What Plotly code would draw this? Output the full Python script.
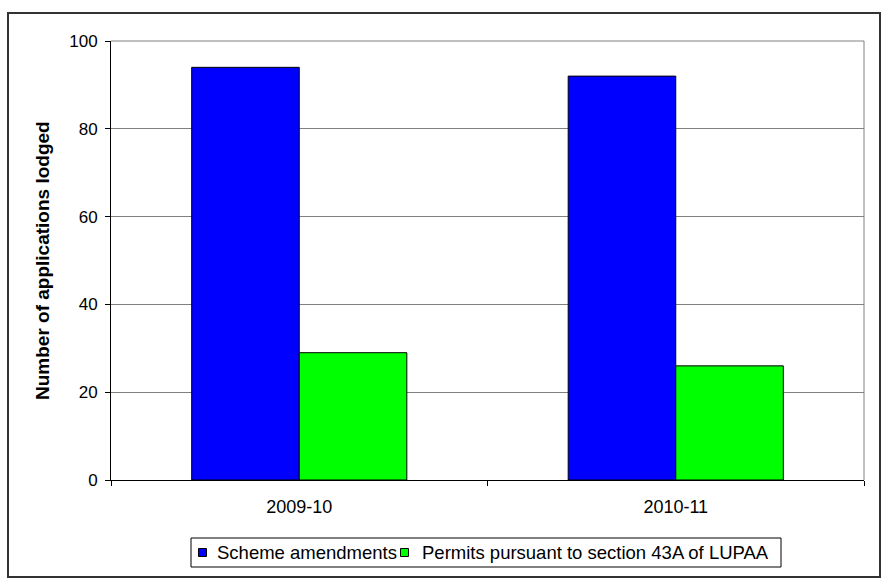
import plotly.graph_objects as go

# Applications lodged per financial year
years = ["2009-10", "2010-11"]
scheme_amendments = [94, 92]
permits_43a = [29, 26]

series_names = ["Scheme amendments", "Permits pursuant to section 43A of LUPAA"]
series_colors = ["#0000FF", "#00FF00"]

y_ticks = [0, 20, 40, 60, 80, 100]

W, H = 889, 584
L, T = 111, 41
PLOT_RIGHT, PLOT_BOTTOM = 864, 480
R, B = W - PLOT_RIGHT, H - PLOT_BOTTOM
plot_w = PLOT_RIGHT - L
plot_h = PLOT_BOTTOM - T

FONT = "Liberation Sans, Arial, sans-serif"


def px_x(px):
    """Page pixel x -> paper coordinate."""
    return (px - L) / plot_w


def px_y(py):
    """Page pixel y -> paper coordinate."""
    return (PLOT_BOTTOM - py) / plot_h


fig = go.Figure()
for name, vals, col in zip(series_names, [scheme_amendments, permits_43a], series_colors):
    fig.add_trace(go.Bar(
        x=years, y=vals, name=name,
        marker=dict(color=col, line=dict(color="#000000", width=1)),
    ))

fig.update_layout(
    width=W, height=H,
    margin=dict(l=L, r=R, t=T, b=B, pad=0),
    paper_bgcolor="white", plot_bgcolor="white",
    barmode="group", bargap=1.5 / 3.5, bargroupgap=0,
    font=dict(family=FONT, size=18, color="#000000"),
    showlegend=False,
)

fig.update_xaxes(
    type="category", tickson="boundaries",
    showline=True, linecolor="#000000", linewidth=1,
    ticks="outside", ticklen=5, tickcolor="#000000",
    showgrid=False, ticklabelstandoff=10,
    tickfont=dict(size=18),
)
fig.update_yaxes(
    range=[0, 100], tickvals=y_ticks,
    showline=True, linecolor="#000000", linewidth=1,
    ticks="outside", ticklen=5, tickcolor="#000000",
    showgrid=True, gridcolor="#808080", gridwidth=1,
    ticklabelstandoff=4, tickfont=dict(size=17),
    zeroline=False,
)

# Y-axis title
fig.add_annotation(
    text="<b>Number of applications lodged</b>",
    xref="paper", yref="paper",
    x=px_x(42), y=px_y(261),
    xanchor="center", yanchor="middle",
    textangle=-90, showarrow=False,
    font=dict(family=FONT, size=19, color="#000000"),
)

# Plot-area border (top and right edges)
fig.add_shape(type="line", xref="paper", yref="paper",
              x0=0, x1=1, y0=1, y1=1, line=dict(color="#808080", width=1))
fig.add_shape(type="line", xref="paper", yref="paper",
              x0=1, x1=1, y0=0, y1=1, line=dict(color="#808080", width=1))

# Outer chart frame
fig.add_shape(type="rect", xref="paper", yref="paper",
              x0=px_x(8), x1=px_x(880), y0=px_y(577), y1=px_y(13),
              line=dict(color="#333333", width=2), layer="below")

# Legend box below the plot
LEG_L, LEG_R, LEG_T, LEG_B = 191, 781, 538, 567
leg_mid = (LEG_T + LEG_B) / 2
fig.add_shape(type="rect", xref="paper", yref="paper",
              x0=px_x(LEG_L), x1=px_x(LEG_R), y0=px_y(LEG_B), y1=px_y(LEG_T),
              line=dict(color="#000000", width=1), fillcolor="white")
swatch_x = [198.5, 400.5]
text_x = [215, 420]
SW = 8
for name, col, sx, tx in zip(series_names, series_colors, swatch_x, text_x):
    fig.add_shape(type="rect", xref="paper", yref="paper",
                  x0=px_x(sx), x1=px_x(sx + SW),
                  y0=px_y(leg_mid + SW / 2), y1=px_y(leg_mid - SW / 2),
                  line=dict(color="#000000", width=1), fillcolor=col)
    fig.add_annotation(
        text=name, xref="paper", yref="paper",
        x=px_x(tx), y=px_y(leg_mid),
        xanchor="left", yanchor="middle", showarrow=False,
        font=dict(family=FONT, size=18.5, color="#000000"),
    )

fig.write_html("out.html")
